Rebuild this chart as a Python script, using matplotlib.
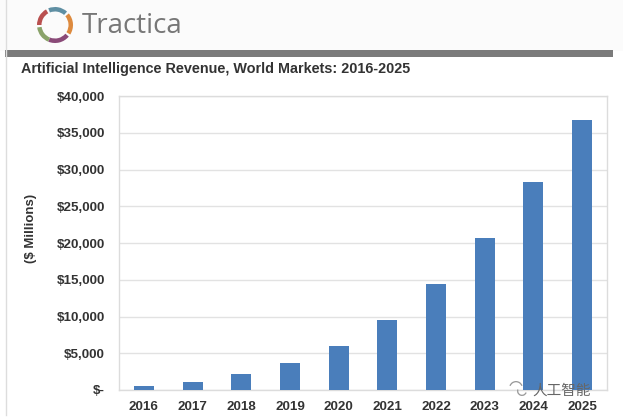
#!/usr/bin/env python3
import matplotlib
matplotlib.use("Agg")
import matplotlib.pyplot as plt
from matplotlib.patches import Wedge, Rectangle

W, H = 623, 420

years = ["2016", "2017", "2018", "2019", "2020", "2021", "2022", "2023", "2024", "2025"]
revenue = [600, 1150, 2200, 3700, 6000, 9500, 14400, 20700, 28300, 36700]
y_ticks = [0, 5000, 10000, 15000, 20000, 25000, 30000, 35000, 40000]
y_labels = ["$-", "$5,000", "$10,000", "$15,000", "$20,000",
            "$25,000", "$30,000", "$35,000", "$40,000"]

BAR = "#4a7ebb"
TXT = "#333333"

plt.rcParams["font.family"] = ["Liberation Sans", "DejaVu Sans"]

fig = plt.figure(figsize=(W / 100, H / 100), dpi=100, facecolor="white")

# page overlay in pixel coords
bg = fig.add_axes([0, 0, 1, 1], zorder=0)
bg.set_xlim(0, W)
bg.set_ylim(H, 0)
bg.axis("off")
bg.add_patch(Rectangle((0, 0), W, 51, color="#fbfbfb", lw=0))
bg.add_patch(Rectangle((5, 50), W - 15, 6.5, color="#7b7b7b", lw=0))
bg.plot([5.5, 5.5], [0, 415], color="#dddddd", lw=1)

# logo ring
segments = [(48, 112, "#5f8fa3"), (-32, 40, "#dd8a3e"), (-112, -40, "#8a4a78"),
            (188, 248, "#8aa36a"), (120, 180, "#b9504f")]
for a1, a2, c in segments:
    bg.add_patch(Wedge((55, 25), 18, -a2, -a1, width=4.5, color=c, lw=0))
bg.text(82, 26, "Tractica", fontsize=20, color="#777777", va="center", ha="left",
        family=["Open Sans", "DejaVu Sans"])

bg.text(21, 69, "Artificial Intelligence Revenue, World Markets: 2016-2025",
        fontsize=10.35, fontweight="bold", color=TXT, va="center", ha="left")

# chart
ax = fig.add_axes([119 / W, 1 - 390 / H, (607 - 119) / W, (390 - 96) / H], zorder=1)
ax.patch.set_alpha(0)
x = list(range(len(years)))
ax.bar(x, revenue, width=0.41, color=BAR, zorder=3)
ax.set_xlim(-0.51, 9.51)
ax.set_ylim(0, 40000)
ax.set_xticks(x)
ax.set_xticklabels(years)
ax.set_yticks(y_ticks)
ax.set_yticklabels(y_labels)
ax.tick_params(length=0, labelsize=9.6, labelcolor=TXT)
ax.tick_params(axis="y", pad=10)
ax.tick_params(axis="x", pad=8)
for lab in ax.get_xticklabels() + ax.get_yticklabels():
    lab.set_fontweight("bold")
ax.grid(axis="y", color="#e2e2e2", lw=1, zorder=0)
for s in ax.spines.values():
    s.set_color("#dcdcdc")
    s.set_linewidth(1)
ax.set_ylabel("($ Millions)", fontsize=9.5, fontweight="bold", color=TXT, labelpad=14, y=0.55)

# watermark
fg = fig.add_axes([0, 0, 1, 1], zorder=2)
fg.set_xlim(0, W)
fg.set_ylim(H, 0)
fg.axis("off")
fg.text(591, 391, "人工智能", fontsize=10.5, color="#666666", ha="right", va="center",
        family=["Noto Sans CJK SC", "DejaVu Sans"])
fg.add_patch(Wedge((516, 388), 7, 200, 340, width=1.3, color="#999999", lw=0))
fg.add_patch(Wedge((522, 391), 5, 20, 200, width=1.3, color="#999999", lw=0))

fig.savefig("out.png", dpi=100)
